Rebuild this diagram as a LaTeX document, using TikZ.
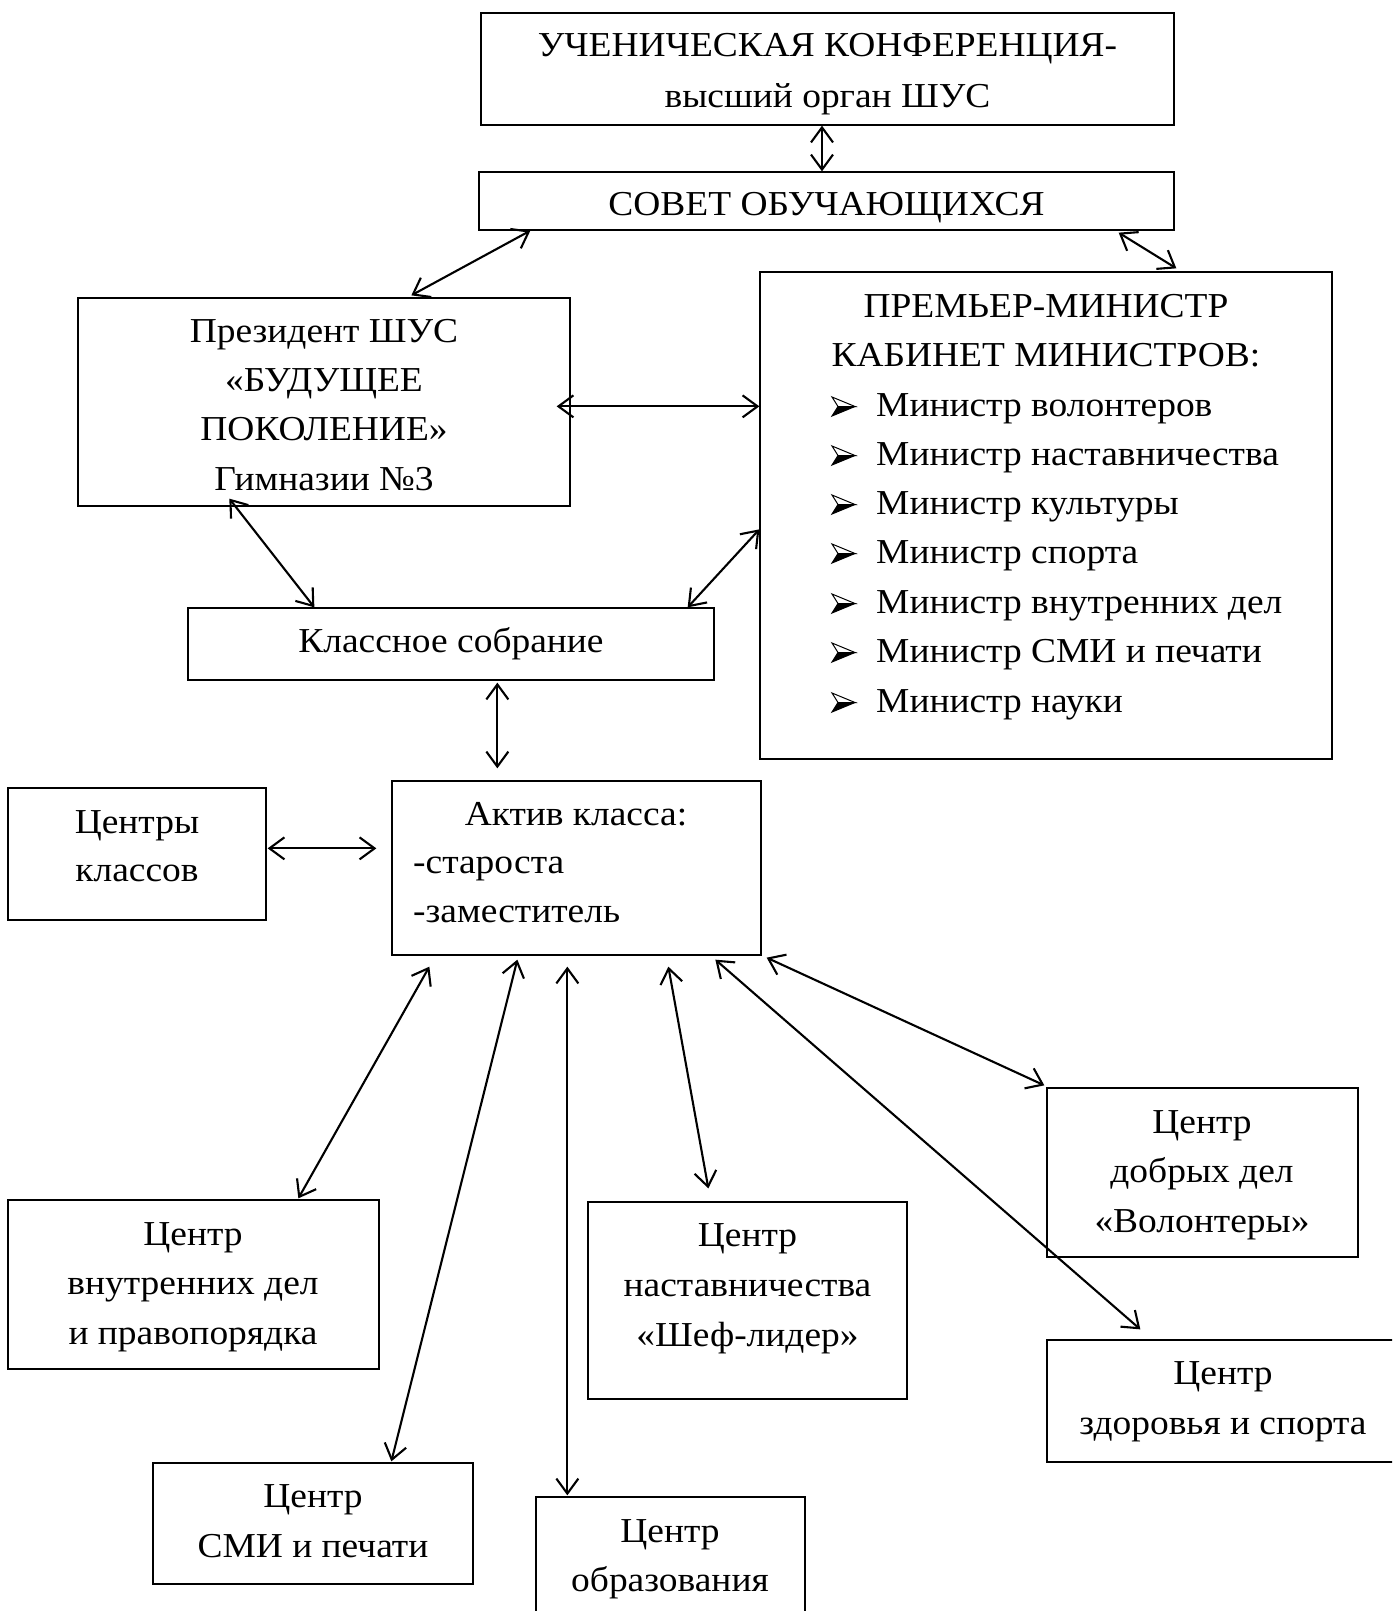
\documentclass[tikz,border=0pt]{standalone}
\usepackage{fontspec}
\setmainfont{Liberation Serif}[FakeStretch=1.07]
\usetikzlibrary{arrows.meta,calc}
\tikzset{
  box/.style={draw=black, line width=1.3pt, rectangle, inner sep=0pt},
  txt/.style={anchor=base, inner sep=0pt, font=\fontsize{35}{49}\selectfont},
  txtl/.style={anchor=base west, inner sep=0pt, font=\fontsize{35}{49}\selectfont},
  link/.style={<->, line width=2.1pt, >={Straight Barb[length=15pt,width=22pt]}}
}
\newcommand\mybullet[2]{%
  \filldraw[fill=white, draw=black, line width=1pt, line join=miter]
    (#1,#2-19) -- (#1+23,#2-9.5) -- (#1+6,#2-9.5) -- cycle;
  \filldraw[fill=black, draw=black, line width=1pt, line join=miter]
    (#1+6,#2-9.5) -- (#1+23,#2-9.5) -- (#1,#2) -- cycle;
}
\begin{document}
\begin{tikzpicture}[x=1pt,y=-1pt]
\useasboundingbox (0,0) rectangle (1392,1611);
\clip (0,0) rectangle (1392,1611);
\fill[white] (0,0) rectangle (1392,1611);

% boxes
\node[box, minimum width=693pt, minimum height=112pt] (konf) at (827.5,69) {};
\node[box, minimum width=695pt, minimum height=58pt] (sovet) at (826.5,201) {};
\node[box, minimum width=492pt, minimum height=208pt] (pres) at (324,402) {};
\node[box, minimum width=572pt, minimum height=487pt] (prem) at (1046,515.5) {};
\node[box, minimum width=526pt, minimum height=72pt] (sobr) at (451,644) {};
\node[box, minimum width=258pt, minimum height=132pt] (centry) at (137,854) {};
\node[box, minimum width=369pt, minimum height=174pt] (aktiv) at (576.5,868) {};
\node[box, minimum width=371pt, minimum height=169pt] (vnutr) at (193.5,1284.5) {};
\node[box, minimum width=319pt, minimum height=197pt] (nast) at (747.5,1300.5) {};
\node[box, minimum width=311pt, minimum height=169pt] (dobr) at (1202.5,1172.5) {};
\node[box, minimum width=420pt, minimum height=122pt] (zdor) at (1257,1401) {};
\node[box, minimum width=320pt, minimum height=121pt] (smi) at (313,1523.5) {};
\node[box, minimum width=269pt, minimum height=143pt] (obr) at (670.5,1568.5) {};

% texts
\node[txt] (k1) at (827.5,57) {УЧЕНИЧЕСКАЯ КОНФЕРЕНЦИЯ-};
\node[txt] (k2) at (827.5,107) {высший орган ШУС};
\node[txt] (s1) at (826.5,215) {СОВЕТ ОБУЧАЮЩИХСЯ};
\node[txt] (p1) at (324,342) {Президент ШУС};
\node[txt] (p2) at (324,391) {«БУДУЩЕЕ};
\node[txt] (p3) at (324,440) {ПОКОЛЕНИЕ»};
\node[txt] (p4) at (324,490) {Гимназии №3};
\node[txt] (m1) at (1046,317) {ПРЕМЬЕР-МИНИСТР};
\node[txt] (m2) at (1046,366) {КАБИНЕТ МИНИСТРОВ:};
\foreach \yy/\tt [count=\i] in {416/Министр волонтеров, 465/Министр наставничества, 514/Министр культуры, 563/Министр спорта, 613/Министр внутренних дел, 662/Министр СМИ и печати, 712/Министр науки}{
  \mybullet{832}{\yy}
  \node[txtl] (l\i) at (876,\yy) {\tt};
}
\node[txt] (c1) at (451,652) {Классное собрание};
\node[txt] (r1) at (137,833) {Центры};
\node[txt] (r2) at (137,881) {классов};
\node[txt] (a1) at (576,825) {Актив класса:};
\node[txtl] (a2) at (413,873) {-староста};
\node[txtl] (a3) at (413,922) {-заместитель};
\node[txt] (v1) at (193,1245) {Центр};
\node[txt] (v2) at (193,1294) {внутренних дел};
\node[txt] (v3) at (193,1344) {и правопорядка};
\node[txt] (n1) at (747.5,1246) {Центр};
\node[txt] (n2) at (747.5,1296) {наставничества};
\node[txt] (n3) at (747.5,1346) {«Шеф-лидер»};
\node[txt] (d1) at (1202,1133) {Центр};
\node[txt] (d2) at (1202,1182) {добрых дел};
\node[txt] (d3) at (1202,1232) {«Волонтеры»};
\node[txt] (z1) at (1223,1384) {Центр};
\node[txt] (z2) at (1223,1434) {здоровья и спорта};
\node[txt] (e1) at (313,1507) {Центр};
\node[txt] (e2) at (313,1557) {СМИ и печати};
\node[txt] (o1) at (670,1542) {Центр};
\node[txt] (o2) at (670,1591) {образования};

% connectors
\draw[link] ([xshift=-5.5pt]konf.south) -- ([xshift=-4.5pt]sovet.north);
\draw[link] ($(sovet.south west)+(52,0)$) -- ($(pres.north west)+(334,-2)$);
\draw[link] ($(sovet.south east)+(-56,2)$) -- ($(prem.north west)+(417,-3)$);
\draw[link] ($(pres.north east)+(-14,109)$) -- ($(prem.north west)+(0,135)$);
\draw[link] ($(pres.south west)+(152,-8)$) -- ($(sobr.north west)+(127,0)$);
\draw[link] ($(prem.north west)+(0,258)$) -- ($(sobr.north east)+(-27,0)$);
\draw[link] ($(sobr.south west)+(310,2)$) -- ($(aktiv.north west)+(106,-12)$);
\draw[link] ($(centry.north east)+(1,61)$) -- ($(aktiv.north west)+(-15,68)$);
\draw[link] ($(aktiv.south west)+(38,11)$) -- ($(vnutr.north west)+(291,-1)$);
\draw[link] ($(aktiv.south west)+(126,4)$) -- ($(smi.north west)+(239,-1)$);
\draw[link] ($(aktiv.south west)+(176,11)$) -- ($(obr.north west)+(32,-1)$);
\draw[link] ($(aktiv.south west)+(277,11)$) -- ($(nast.north west)+(121,-13)$);
\draw[link] ($(aktiv.south west)+(324,4)$) -- ($(zdor.north west)+(94,-10)$);
\draw[link] ($(aktiv.south east)+(5,2)$) -- ($(dobr.north west)+(-2,-2)$);
\end{tikzpicture}
\end{document}
